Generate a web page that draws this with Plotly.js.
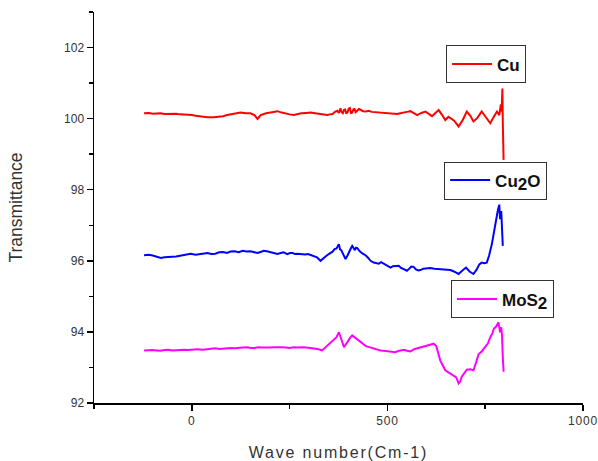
<!DOCTYPE html>
<html>
<head>
<meta charset="utf-8">
<script src="https://cdn.plot.ly/plotly-3.0.1.min.js"></script>
<style>
html,body{margin:0;padding:0;background:#fff;}
#chart{width:598px;height:461px;}
#chart .xtitle{letter-spacing:1.8px;}
#chart .xtick text{letter-spacing:0.8px;}
</style>
</head>
<body>
<div id="chart"></div>
<script>
// Cu
const cuX = [-122,-110,-100,-90,-80,-70,-60,-50,-40,-30,-20,-10,0,10,20,30,40,56,70,80,90,100,112,125,138,150,160,168,176,190,205,219,230,240,250,261,270,280,292,304,315,325,336,346,353,360,366,372,376,380,383,386,389,392,395,398,401,404,407,410,413,416,419,423,427,431,438,445,452,460,470,482,494,505,515,525,533,540,550,559,567,576,587,597,605,614,622,631,640,648,656,670,682,692,703,712,720,730,741,752,763,772,780,786,790,792,794,795,797];
const cuY = [100.15,100.16,100.14,100.15,100.15,100.13,100.13,100.15,100.14,100.12,100.12,100.10,100.10,100.08,100.06,100.05,100.04,100.04,100.05,100.07,100.10,100.12,100.15,100.17,100.15,100.15,100.10,99.99,100.10,100.15,100.18,100.21,100.17,100.14,100.12,100.10,100.13,100.15,100.16,100.17,100.15,100.13,100.12,100.10,100.12,100.13,100.19,100.22,100.16,100.29,100.18,100.15,100.25,100.26,100.14,100.18,100.28,100.30,100.16,100.17,100.26,100.27,100.18,100.22,100.27,100.25,100.21,100.20,100.22,100.19,100.18,100.17,100.17,100.16,100.14,100.13,100.15,100.16,100.19,100.21,100.15,100.10,100.16,100.20,100.14,100.07,100.15,100.24,100.10,99.96,100.05,99.95,99.78,99.95,100.20,100.08,99.92,100.02,100.20,100.05,99.87,100.05,100.20,100.10,100.40,100.20,100.85,99.90,98.84];
// Cu2O
const cu2oX = [-122,-110,-100,-90,-79,-70,-60,-50,-40,-30,-20,-10,-3,10,20,30,40,50,60,70,80,90,99,110,120,130,140,150,160,168,176,184,192,200,210,219,227,235,244,251,258,264,270,280,290,297,304,312,320,329,337,345,352,359,365,370,376,379,382,386,393,398,403,407,410,414,417,420,423,427,430,437,445,451,457,465,471,478,484,490,499,508,514,520,529,535,540,545,550,556,561,567,573,579,584,592,600,610,620,630,640,650,661,670,682,691,701,710,720,728,735,741,748,754,760,767,772,776,782,786,788,791,793,795];
const cu2oY = [96.16,96.17,96.15,96.12,96.08,96.10,96.10,96.11,96.12,96.14,96.16,96.18,96.20,96.17,96.18,96.21,96.22,96.19,96.20,96.24,96.25,96.22,96.26,96.27,96.24,96.28,96.26,96.27,96.25,96.22,96.25,96.28,96.27,96.24,96.22,96.19,96.22,96.24,96.19,96.22,96.22,96.19,96.20,96.18,96.18,96.19,96.16,96.14,96.10,96.00,96.08,96.15,96.20,96.25,96.33,96.35,96.47,96.32,96.30,96.20,96.05,96.15,96.30,96.36,96.42,96.33,96.30,96.37,96.36,96.30,96.26,96.20,96.15,96.08,96.00,95.95,95.94,95.92,95.96,95.92,95.86,95.81,95.85,95.86,95.86,95.80,95.78,95.75,95.72,95.78,95.84,95.83,95.76,95.73,95.74,95.78,95.79,95.80,95.78,95.77,95.76,95.76,95.74,95.70,95.63,95.72,95.81,95.70,95.63,95.75,95.90,95.95,95.93,95.95,96.15,96.47,96.80,97.07,97.40,97.58,97.17,97.40,96.56,96.42];
// MoS2
const mosX = [-122,-110,-100,-90,-80,-70,-60,-50,-40,-30,-20,-10,0,15,28,40,50,60,70,80,90,100,110,120,130,142,150,160,170,180,190,200,210,220,230,240,250,260,270,287,298,310,322,333,345,355,363,370,376,379,382,389,395,400,405,410,415,420,425,431,438,445,452,460,467,474,482,491,500,510,520,530,542,550,559,570,584,592,600,609,618,625,630,635,642,648,658,669,676,682,686,690,697,703,712,720,727,733,741,750,757,763,768,772,778,784,788,791,793,795,797];
const mosY = [93.48,93.49,93.49,93.48,93.47,93.49,93.50,93.48,93.49,93.50,93.50,93.49,93.50,93.51,93.50,93.52,93.53,93.54,93.52,93.53,93.55,93.55,93.54,93.54,93.56,93.57,93.55,93.55,93.57,93.56,93.55,93.56,93.57,93.58,93.57,93.56,93.55,93.57,93.56,93.57,93.56,93.54,93.52,93.48,93.60,93.71,93.80,93.85,93.99,93.85,93.80,93.57,93.68,93.78,93.84,93.90,93.86,93.82,93.77,93.71,93.66,93.60,93.58,93.55,93.53,93.50,93.48,93.47,93.46,93.45,93.43,93.47,93.50,93.47,93.45,93.52,93.57,93.60,93.62,93.64,93.67,93.60,93.40,93.20,93.05,92.92,92.85,92.78,92.72,92.55,92.60,92.74,92.85,92.94,92.95,92.92,93.15,93.37,93.45,93.57,93.68,93.85,93.95,94.09,94.15,94.27,93.99,94.13,93.90,93.29,92.88];

const names = [
  '<b>Cu</b>',
  '<b>Cu<sub><span style="font-size:17px">2</span></sub>O</b>',
  '<b>MoS<sub><span style="font-size:17px">2</span></sub></b>'
];
const colors = ['#ff0000', '#0000ff', '#ff00ff'];

const traces = [
  {x: cuX, y: cuY, name: names[0], legend: 'legend', line: {color: colors[0], width: 2}},
  {x: cu2oX, y: cu2oY, name: names[1], legend: 'legend2', line: {color: colors[1], width: 2}},
  {x: mosX, y: mosY, name: names[2], legend: 'legend3', line: {color: colors[2], width: 2}}
].map(t => Object.assign({type: 'scatter', mode: 'lines'}, t));

const legBase = {
  xref: 'paper', yref: 'paper', xanchor: 'left', yanchor: 'middle',
  bgcolor: '#ffffff', bordercolor: '#333333', borderwidth: 1,
  font: {family: 'Arial, Liberation Sans, sans-serif', size: 17, color: '#111'},
  itemwidth: 40, tracegroupgap: 0
};

const layout = {
  width: 598, height: 461,
  margin: {l: 94, r: 15, t: 12, b: 58},
  paper_bgcolor: '#ffffff', plot_bgcolor: '#ffffff',
  font: {family: 'Arial, Liberation Sans, sans-serif', color: '#333'},
  xaxis: {
    range: [-250, 1000], tick0: 0, dtick: 500,
    showgrid: false, zeroline: false, showline: true, linecolor: '#000', linewidth: 1.5,
    ticks: 'outside', ticklen: 6, tickcolor: '#000', tickwidth: 1.5,
    minor: {dtick: 250, tick0: 0, ticks: 'outside', ticklen: 4, tickcolor: '#000', tickwidth: 1.5},
    tickfont: {size: 12, color: '#333'},
    title: {text: 'Wave number(Cm-1)', font: {size: 16, color: '#333'}, standoff: 22}
  },
  yaxis: {
    range: [92, 103], tick0: 92, dtick: 2,
    showgrid: false, zeroline: false, showline: true, linecolor: '#000', linewidth: 1.5,
    ticks: 'outside', ticklen: 6, tickcolor: '#000', tickwidth: 1.5,
    minor: {dtick: 1, tick0: 92, ticks: 'outside', ticklen: 4, tickcolor: '#000', tickwidth: 1.5},
    tickfont: {size: 12, color: '#333'},
    title: {text: 'Transmittance', font: {size: 17.5, color: '#333'}, standoff: 37}
  },
  showlegend: true,
  legend: Object.assign({}, legBase, {x: 0.72, y: 0.866}),
  legend2: Object.assign({}, legBase, {x: 0.716, y: 0.569}),
  legend3: Object.assign({}, legBase, {x: 0.73, y: 0.265})
};

Plotly.newPlot('chart', traces, layout, {displayModeBar: false, staticPlot: true});
</script>
</body>
</html>
